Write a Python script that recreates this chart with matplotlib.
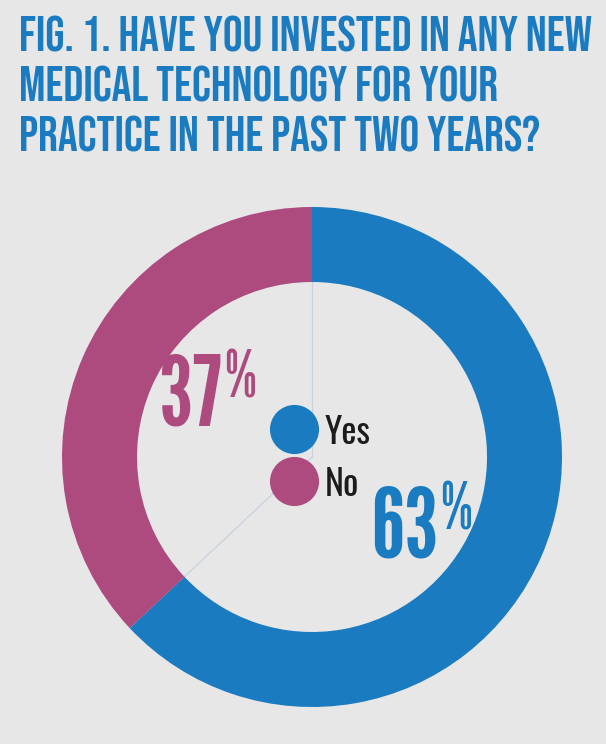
import math

import matplotlib
matplotlib.use("Agg")
import matplotlib.pyplot as plt

TITLE_LINES = [
    "FIG. 1. HAVE YOU INVESTED IN ANY NEW",
    "MEDICAL TECHNOLOGY FOR YOUR",
    "PRACTICE IN THE PAST TWO YEARS?",
]
LABELS = ["Yes", "No"]
SHARES = [63, 37]
COLORS = ["#1a7bc1", "#ad4a7e"]

BG = "#e7e7e8"
TEXT_DARK = "#1c1c1c"
GUIDE = "#c6d2de"

# layout in pixels, origin at top-left
CX, CY = 312, 457
R_OUT, RING = 250, 75

fig = plt.figure(figsize=(6.06, 7.44), dpi=100, facecolor=BG)
ax = fig.add_axes([0, 0, 1, 1])
ax.set_facecolor(BG)

wedges, _ = ax.pie(
    SHARES,
    colors=COLORS,
    startangle=-90,
    counterclock=True,
    center=(CX, CY),
    radius=R_OUT,
    wedgeprops=dict(width=RING, linewidth=0),
    frame=True,
)

# thin guide lines from the middle to each wedge boundary
angle = -90
for share in SHARES:
    rad = math.radians(angle)
    ax.plot([CX, CX + R_OUT * math.cos(rad)], [CY, CY + R_OUT * math.sin(rad)],
            color=GUIDE, lw=0.9, zorder=0.5)
    angle += share / sum(SHARES) * 360

ax.set_xlim(0, 606)
ax.set_ylim(744, 0)
ax.set_aspect("equal")
ax.axis("off")

# title
for i, line in enumerate(TITLE_LINES):
    ax.text(19, 52 + i * 50, line, family="Bebas Neue", fontsize=35.5,
            color=COLORS[0], ha="left", va="baseline")

# percentage labels: (value, colour, right edge of digits, baseline)
num_font = dict(family="League Gothic")
for value, color, x, y in [(SHARES[1], COLORS[1], 222, 425),
                           (SHARES[0], COLORS[0], 438, 558)]:
    ax.text(x, y, f"{value}", color=color, fontsize=70,
            ha="right", va="baseline", **num_font)
    ax.text(x + 2, y - 28, "%", color=color, fontsize=46,
            ha="left", va="baseline", **num_font)

# legend
for i, (label, color) in enumerate(zip(LABELS, COLORS)):
    y = 429 + i * 52
    ax.scatter([294], [y], s=1250, color=color, linewidths=0, zorder=3)
    ax.text(325, y + 15, label, family="Oswald", fontsize=26,
            color=TEXT_DARK, ha="left", va="baseline")

fig.savefig("out.png", dpi=100, facecolor=BG)
